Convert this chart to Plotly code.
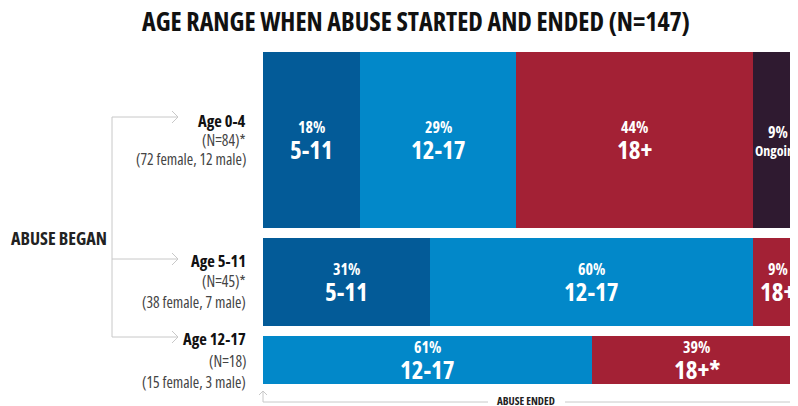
import plotly.graph_objects as go

# data
began_labels = ["Age 0-4", "Age 5-11", "Age 12-17"]
began_n = [84, 45, 18]
began_star = ["*", "*", ""]
began_female = [72, 38, 15]
began_male = [12, 7, 3]

ended_cats = ["5-11", "12-17", "18+", "Ongoing"]
pct_5_11 = [18, 31, 0]
pct_12_17 = [29, 60, 61]
pct_18_plus = [44, 9, 39]
pct_ongoing = [9, 0, 0]
ended_text = [["5-11", "12-17", "18+", "Ongoing"],
              ["5-11", "12-17", "18+", "Ongoing"],
              ["5-11", "12-17", "18+*", "Ongoing"]]

colors = ["#035B98", "#0288C9", "#A32135", "#2F1A30"]

# page body has an 8px margin, so the figure is drawn 8px in from the corner
OFF = 8
W, H = 798 - OFF, 406 - OFF
FONT = "Open Sans, Roboto, sans-serif"


def cond(s, bold=False):
    if bold:
        s = f"<b>{s}</b>"
    return f"<span style='font-stretch:condensed'>{s}</span>"


def px(x):
    return (x - OFF) / W


def py(y):
    return 1 - (y - OFF) / H


# row layout (pixel thickness of each bar, gap between)
thick = [176, 88, 48]
gap = 10
centers = []
top = 0
for t in thick:
    centers.append(top + t / 2)
    top += t + gap
total_h = top - gap
plot_top = 52
bar_left = 263
full_w = 539  # pixels for 100%

series = [pct_5_11, pct_12_17, pct_18_plus, pct_ongoing]

fig = go.Figure()
for i, cat in enumerate(ended_cats):
    fig.add_trace(go.Bar(
        y=centers, x=series[i], width=thick, orientation="h",
        marker=dict(color=colors[i], line=dict(width=0)),
        name=cat, showlegend=False, hoverinfo="skip"
    ))

annotations = []
# labels inside bars
for r in range(len(began_labels)):
    cum = 0
    for i in range(len(ended_cats)):
        v = series[i][r]
        if v == 0:
            continue
        mid = cum + v / 2
        cum += v
        label = ended_text[r][i]
        ongoing = label == "Ongoing"
        annotations.append(dict(
            x=mid, y=centers[r], xref="x", yref="y", showarrow=False,
            yanchor="middle", yshift=8 if ongoing else 13.5,
            text=cond(f"{v}%", True),
            font=dict(family=FONT, color="white", size=16)
        ))
        annotations.append(dict(
            x=mid, y=centers[r], xref="x", yref="y", showarrow=False,
            yanchor="middle", yshift=-10 if ongoing else -9,
            text=cond(label, True),
            font=dict(family=FONT, color="white", size=14 if ongoing else 25)
        ))

# left labels (pixel rows for name, N, gender split)
label_rows = [(120, 140, 159), (260, 281, 302), (338, 361, 382)]
for r, lab in enumerate(began_labels):
    y1, y2, y3 = label_rows[r]
    annotations.append(dict(
        x=px(248), y=py(y1), xref="paper", yref="paper", showarrow=False,
        xanchor="right", yanchor="middle",
        text=cond(lab, True), font=dict(family=FONT, size=16.5, color="#111")
    ))
    annotations.append(dict(
        x=px(248), y=py(y2), xref="paper", yref="paper", showarrow=False,
        xanchor="right", yanchor="middle",
        text=cond(f"(N={began_n[r]}){began_star[r]}"),
        font=dict(family=FONT, size=15.5, color="#444")
    ))
    annotations.append(dict(
        x=px(248), y=py(y3), xref="paper", yref="paper", showarrow=False,
        xanchor="right", yanchor="middle",
        text=cond(f"({began_female[r]} female, {began_male[r]} male)"),
        font=dict(family=FONT, size=15.5, color="#444")
    ))

annotations.append(dict(
    x=px(9), y=py(238), xref="paper", yref="paper", showarrow=False,
    xanchor="left", yanchor="middle", text=cond("ABUSE BEGAN", True),
    font=dict(family=FONT, size=18, color="#222")
))
annotations.append(dict(
    x=px(526), y=py(400), xref="paper", yref="paper", showarrow=False,
    xanchor="center", yanchor="middle", text=cond("ABUSE ENDED", True),
    font=dict(family=FONT, size=11, color="#222")
))
annotations.append(dict(
    x=px(416), y=py(21), xref="paper", yref="paper", showarrow=False,
    xanchor="center", yanchor="middle",
    text=cond("AGE RANGE WHEN ABUSE STARTED AND ENDED (N=147)", True),
    font=dict(family=FONT, size=26, color="#111")
))

# connector lines
line_style = dict(color="#C8C8C8", width=1)
shapes = [
    dict(type="line", xref="paper", yref="paper", x0=px(112), x1=px(112),
         y0=py(117), y1=py(337), line=line_style),
]
for cy in [117, 259, 337]:
    shapes.append(dict(type="line", xref="paper", yref="paper",
                       x0=px(112), x1=px(178), y0=py(cy), y1=py(cy), line=line_style))
    shapes.append(dict(type="path", xref="paper", yref="paper",
                       path=f"M {px(172)},{py(cy - 6)} L {px(178)},{py(cy)} L {px(172)},{py(cy + 6)}",
                       line=line_style))
# bottom "abuse ended" axis
shapes.append(dict(type="line", xref="paper", yref="paper", x0=px(263), x1=px(263),
                   y0=py(391), y1=py(402), line=line_style))
shapes.append(dict(type="path", xref="paper", yref="paper",
                   path=f"M {px(259)},{py(395)} L {px(263)},{py(391)} L {px(267)},{py(395)}",
                   line=line_style))
shapes.append(dict(type="line", xref="paper", yref="paper", x0=px(263), x1=px(488),
                   y0=py(402), y1=py(402), line=line_style))
shapes.append(dict(type="line", xref="paper", yref="paper", x0=px(565), x1=1,
                   y0=py(402), y1=py(402), line=line_style))

plot_w = 798 - bar_left
fig.update_layout(
    width=W, height=H, barmode="stack", bargap=0,
    margin=dict(l=0, r=0, t=0, b=0),
    paper_bgcolor="white", plot_bgcolor="white",
    xaxis=dict(domain=[px(bar_left), 1], range=[0, plot_w / full_w * 100],
               visible=False, fixedrange=True),
    yaxis=dict(domain=[py(plot_top + total_h), py(plot_top)],
               range=[total_h, 0], visible=False, fixedrange=True),
    annotations=annotations, shapes=shapes,
    font=dict(family=FONT)
)

fig.write_html("out.html")
